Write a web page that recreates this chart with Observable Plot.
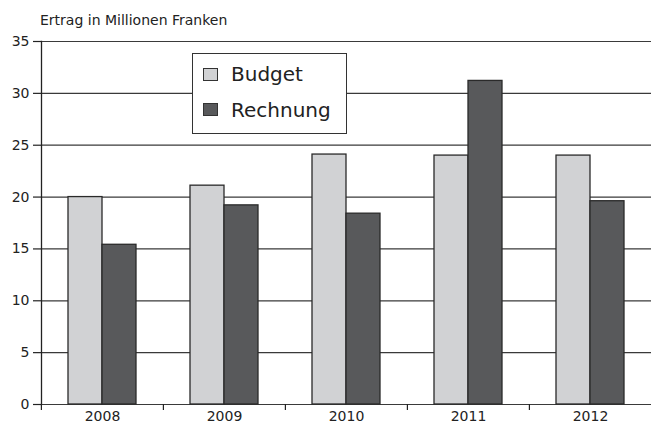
<!DOCTYPE html>
<html>
<head>
<meta charset="utf-8">
<script src="https://cdn.jsdelivr.net/npm/d3@7"></script>
<script src="https://cdn.jsdelivr.net/npm/@observablehq/plot@0.6"></script>
<style>
  html, body { margin: 0; padding: 0; background: #fff; overflow: hidden; }
  #wrap { position: relative; width: 651px; height: 423px; font-family: "DejaVu Sans", sans-serif; color: #222; }
  #title { box-sizing: border-box; height: 30px; padding: 12px 0 0 40px; font-size: 14px; line-height: 16px; white-space: nowrap; }
  #chart svg { display: block; }
  #legend { position: absolute; box-sizing: border-box; left: 192px; top: 53px; width: 155px; height: 81px; border: 1.5px solid #333; background: #fff; }
  #legend .sw { position: absolute; box-sizing: border-box; left: 10px; width: 15px; height: 13px; border: 1px solid #333; }
  #legend .lb { position: absolute; left: 38px; font-size: 20px; line-height: 20px; white-space: nowrap; }
</style>
</head>
<body>
<div id="wrap">
  <div id="title"></div>
  <div id="chart"></div>
  <div id="legend"></div>
</div>
<script>
const title = "Ertrag in Millionen Franken";
const years = ["2008", "2009", "2010", "2011", "2012"];
const series = ["Budget", "Rechnung"];
const budget = [20.0, 21.1, 24.1, 24.0, 24.0];
const rechnung = [15.4, 19.2, 18.4, 31.2, 19.6];
const yTicks = [0, 5, 10, 15, 20, 25, 30, 35];
const colors = ["#d1d2d4", "#58595b"];

const rows = years.flatMap((yr, i) => [
  {year: yr, series: series[0], value: budget[i]},
  {year: yr, series: series[1], value: rechnung[i]}
]);

const W = 651, H = 393, ML = 40, MR = 0;
const cell = (W - ML - MR) / years.length;

document.getElementById("title").textContent = title;

const chart = Plot.plot({
  width: W,
  height: H,
  marginTop: 11,
  marginBottom: 19,
  marginLeft: ML,
  marginRight: MR,
  style: {fontFamily: "DejaVu Sans, sans-serif", fontSize: "14px", background: "white", color: "#222"},
  fx: {domain: years, padding: 0, label: null},
  x: {domain: series, paddingInner: 0, paddingOuter: 0.75, axis: null},
  y: {domain: [0, 35], axis: null},
  color: {domain: series, range: colors},
  marks: [
    Plot.gridY(yTicks, {stroke: "#3a3a3a", strokeOpacity: 1, strokeWidth: 1.2}),
    Plot.barY(rows, {fx: "year", x: "series", y: "value", fill: "series", stroke: "#2a2a2a", strokeWidth: 1.3}),
    Plot.axisY(yTicks, {tickSize: 8, tickPadding: 4, stroke: "#222", strokeWidth: 1.2, fill: "#222", label: null}),
    Plot.axisFx({anchor: "bottom", tickSize: 0, tickPadding: 7, label: null, fill: "#222"}),
    Plot.axisFx({anchor: "bottom", tickSize: 6, tickFormat: () => "", label: null, dx: -cell / 2, stroke: "#222", strokeWidth: 1.2}),
    Plot.frame({anchor: "left", facetAnchor: "left", stroke: "#222", strokeWidth: 1.3})
  ]
});
document.getElementById("chart").appendChild(chart);

const legend = document.getElementById("legend");
const swTops = [14, 49];
const lbTops = [10, 46];
series.forEach((s, i) => {
  const sw = document.createElement("div");
  sw.className = "sw";
  sw.style.top = swTops[i] + "px";
  sw.style.background = colors[i];
  legend.appendChild(sw);
  const lb = document.createElement("div");
  lb.className = "lb";
  lb.style.top = lbTops[i] + "px";
  lb.textContent = s;
  legend.appendChild(lb);
});
</script>
</body>
</html>
